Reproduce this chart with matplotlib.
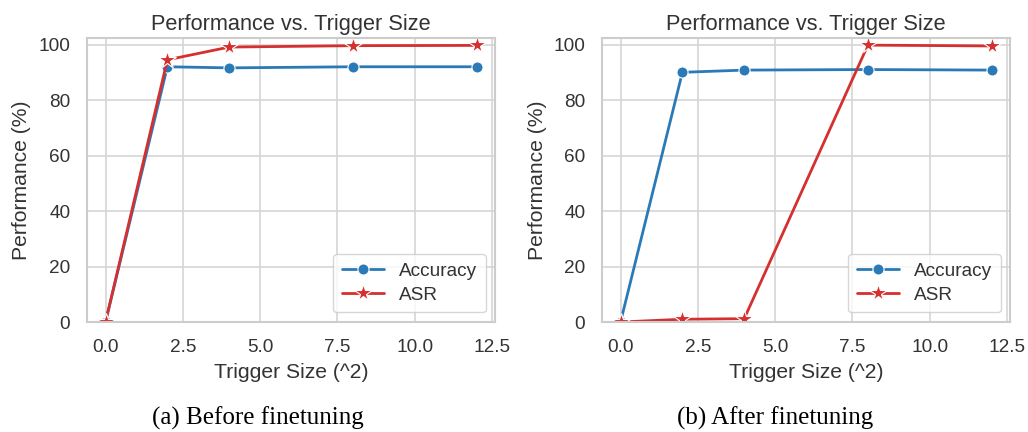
import matplotlib
matplotlib.use("Agg")
import matplotlib.pyplot as plt
import seaborn as sns

sns.set_theme(style="whitegrid")
plt.rcParams['font.family'] = ['Liberation Sans', 'DejaVu Sans']

trigger_sizes = [0, 2, 4, 8, 12]
acc_before = [0.0, 92.0, 91.6, 92.0, 92.0]
asr_before = [0.0, 94.5, 99.1, 99.6, 99.7]
acc_after = [0.0, 90.0, 90.8, 91.0, 90.8]
asr_after = [0.0, 1.0, 1.2, 99.8, 99.5]
captions = ["(a) Before finetuning", "(b) After finetuning"]
title = "Performance vs. Trigger Size"
xlabel = "Trigger Size (^2)"
ylabel = "Performance (%)"

fig = plt.figure(figsize=(10.28, 4.32), dpi=100)
axes = [fig.add_axes([0.0846, 0.2546, 0.397, 0.657]),
        fig.add_axes([0.5856, 0.2546, 0.397, 0.657])]
cap_x = [258 / 1028, 775 / 1028]

datasets = [(acc_before, asr_before), (acc_after, asr_after)]
for ax, (acc, asr), cap, cx in zip(axes, datasets, captions, cap_x):
    ax.plot(trigger_sizes, acc, color='#2a7ab8', marker='o', markersize=8,
            markeredgecolor='white', markeredgewidth=0.8, linewidth=2, label='Accuracy')
    ax.plot(trigger_sizes, asr, color='#d62f2f', marker='*', markersize=13,
            markeredgecolor='white', markeredgewidth=0.8, linewidth=2, label='ASR')
    ax.set_ylim(0, 102.3)
    ax.set_xticks([0, 2.5, 5, 7.5, 10, 12.5])
    ax.set_yticks([0, 20, 40, 60, 80, 100])
    ax.tick_params(labelsize=13.7, colors='#333333', pad=12, length=0)
    ax.set_title(title, fontsize=15.7, color='#333333', pad=6)
    ax.set_xlabel(xlabel, fontsize=15.2, color='#333333', labelpad=5)
    ax.set_ylabel(ylabel, fontsize=15.2, color='#333333', labelpad=5)
    ax.grid(True, color='#d5d5d5', linewidth=1.2)
    for s in ax.spines.values():
        s.set_color('#cccccc')
        s.set_linewidth(1.5)
    leg = ax.legend(loc='lower right', fontsize=13.7, frameon=True, borderpad=0.45,
                    handlelength=2.2, labelspacing=0.35, borderaxespad=0.5)
    for t in leg.get_texts():
        t.set_color('#333333')
    fig.text(cx, 1 - 425 / 432, cap, ha='center', va='baseline',
             fontsize=18, family='Liberation Serif', color='black')

fig.savefig("out.png", dpi=100)
